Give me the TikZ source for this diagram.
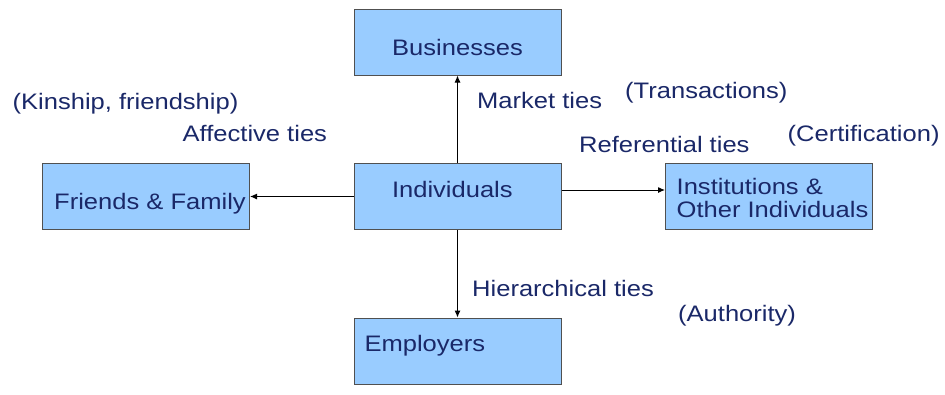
\documentclass[tikz,border=0pt]{standalone}
\usepackage{fontspec}
\usepackage{graphicx}
\setmainfont{Liberation Sans}
\usetikzlibrary{arrows.meta}
\definecolor{boxblue}{RGB}{153,204,255}
\definecolor{boxline}{RGB}{80,80,80}
\definecolor{tietext}{RGB}{26,40,104}
% the lettering is a little wider than plain Arial
\newcommand{\widetext}[1]{\scalebox{1.14}[1]{#1}}

\begin{document}
\begin{tikzpicture}[x=1pt, y=-1pt,
		tiebox/.style={draw=boxline, line width=1pt, fill=boxblue, text=tietext, minimum width=207pt, minimum height=66pt, inner sep=0pt, font=\fontsize{22.4}{23.3}\selectfont},
		tielabel/.style={anchor=base west, inner sep=0pt, text=tietext, font=\fontsize{22.4}{23.3}\selectfont},
		tiearrow/.style={line width=1pt, -{Latex[length=7pt, width=6pt]}}]
			%%%%% START %%%%%
			
			\useasboundingbox (0, 0) rectangle (945, 394);
			
			% the five boxes
			\node[tiebox, text height=26pt, text depth=0pt] (bus) at (457.5, 42) {\widetext{Businesses}};
			\node[tiebox, text width=131pt, text height=6pt, text depth=5pt] (ind) at (457.5, 196.5) {\widetext{Individuals}};
			\node[tiebox, text height=25pt, text depth=0pt] (fri) at (146, 196.5) {\hspace*{8pt}\widetext{Friends \& Family}};
			\node[tiebox, text height=0pt, text depth=5pt] (inst) at (769, 196.5) {\hspace*{7pt}\widetext{\begin{tabular}[t]{@{}l@{}}Institutions \&\\Other Individuals\end{tabular}}};
			\node[tiebox, text width=186pt, text height=6.5pt, text depth=5pt] (emp) at (457.5, 351) {\widetext{Employers}};
			
			% ties out of the middle box
			\draw[tiearrow] (ind.north) -- (bus.south);
			\draw[tiearrow] (ind.west) -- (fri.east);
			\draw[tiearrow] ([yshift=6.5pt]ind.east) -- ([yshift=6.5pt]inst.west);
			\draw[tiearrow] (ind.south) -- (emp.north);
			
			% names of the ties
			\node[tielabel] (market) at (477, 108.5) {\widetext{Market ties}};
			\node[tielabel] (trans) at (625, 98.5) {\widetext{(Transactions)}};
			\node[tielabel] (kin) at (12.5, 109.5) {\widetext{(Kinship, friendship)}};
			\node[tielabel] (affect) at (182.5, 141.5) {\widetext{Affective ties}};
			\node[tielabel] (refer) at (579, 152.5) {\widetext{Referential ties}};
			\node[tielabel] (cert) at (787.5, 141) {\widetext{(Certification)}};
			\node[tielabel] (hier) at (472, 296) {\widetext{Hierarchical ties}};
			\node[tielabel] (auth) at (678, 321.5) {\widetext{(Authority)}};
			
			%%%%% END %%%%%
		\end{tikzpicture}
\end{document}
